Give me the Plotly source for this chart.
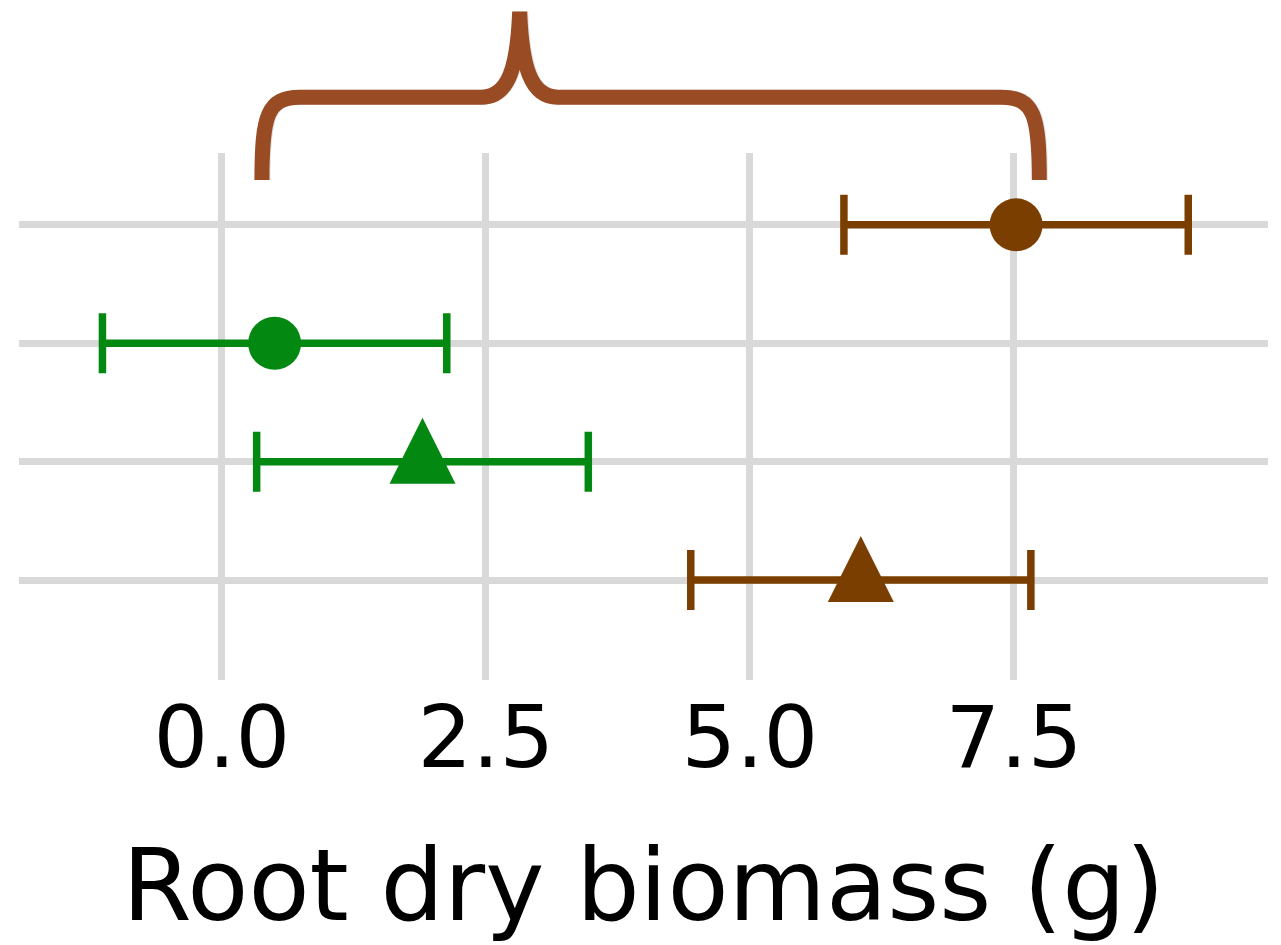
"""
Root dry biomass: point estimates with error bars and a brace on top
"""
import plotly.graph_objects as go

# rows from bottom (0) to top (3)
rows = [3, 2, 1, 0]
biomass = [7.52, 0.50, 1.90, 6.05]
biomass_err = [1.63, 1.63, 1.57, 1.61]
groups = ['brown', 'green', 'green', 'brown']
shapes_kind = ['circle', 'circle', 'triangle', 'triangle']

x_ticks = [0.0, 2.5, 5.0, 7.5]
x_tick_labels = ['0.0', '2.5', '5.0', '7.5']

# horizontal span of the brace (data units) and its tip
brace_left = 0.38
brace_right = 7.74
brace_tip = 2.82

colors = {'brown': '#7a3f00', 'green': '#038812'}
brace_color = '#994b24'
FONT = 'DejaVu Sans'

# the page body keeps an 8px margin, so the figure is shrunk by that much
PAGE_PAD = 8

fig = go.Figure()

for y, x, err, grp, kind in zip(rows, biomass, biomass_err, groups, shapes_kind):
    if kind == 'circle':
        marker = dict(symbol='circle', size=53, color=colors[grp])
    else:
        # matplotlib-like '^': apex up, centred on its centroid
        marker = dict(symbol='arrow-down', size=66, angle=180, standoff=44,
                      color=colors[grp])
    fig.add_trace(go.Scatter(
        x=[x], y=[y],
        mode='markers',
        marker=marker,
        error_x=dict(type='data', array=[err], color=colors[grp],
                     thickness=7.5, width=30),
        showlegend=False,
        hoverinfo='skip'
    ))


def brace_path(x0, x1, xm):
    # x in data units, y in paper units
    cx = 0.36   # corner width
    sx = 0.36   # spike half width
    foot, bar, tip = 0.949, 1.106, 1.268
    return (f'M {x0},{foot} C {x0},{bar - 0.035} {x0 + 0.05},{bar} {x0 + cx},{bar} '
            f'L {xm - sx},{bar} '
            f'C {xm - 0.1},{bar} {xm - 0.02},{bar + 0.06} {xm},{tip} '
            f'C {xm + 0.02},{bar + 0.06} {xm + 0.1},{bar} {xm + sx},{bar} '
            f'L {x1 - cx},{bar} '
            f'C {x1 - 0.05},{bar} {x1},{bar - 0.035} {x1},{foot}')


# soft shadow, then the brace itself
fig.add_shape(type='path', path=brace_path(brace_left + 0.01, brace_right + 0.01, brace_tip + 0.01),
              xref='x', yref='paper', layer='above',
              line=dict(color='rgba(0,0,0,0.12)', width=15))
fig.add_shape(type='path', path=brace_path(brace_left, brace_right, brace_tip),
              xref='x', yref='paper', layer='above',
              line=dict(color=brace_color, width=15))

fig.update_layout(
    width=1281 - PAGE_PAD, height=945 - PAGE_PAD,
    margin=dict(l=19 - PAGE_PAD, r=13, t=153 - PAGE_PAD, b=265),
    paper_bgcolor='white',
    plot_bgcolor='white',
    font=dict(family=FONT, color='black'),
    xaxis=dict(
        range=[-1.92, 9.905],
        tickvals=x_ticks, ticktext=x_tick_labels,
        tickfont=dict(size=86, family=FONT, color='black'),
        showgrid=True, gridcolor='#d9d9d9', gridwidth=7,
        zeroline=False, showline=False, ticks='',
        title=dict(text='Root dry biomass (g)',
                   font=dict(size=100, family=FONT, color='black'),
                   standoff=63),
        automargin=False,
    ),
    yaxis=dict(
        range=[-0.844, 3.607],
        tickvals=rows, showticklabels=False,
        showgrid=True, gridcolor='#d9d9d9', gridwidth=7,
        zeroline=False, showline=False, ticks='',
        automargin=False,
    ),
)

fig.write_html("out.html")
